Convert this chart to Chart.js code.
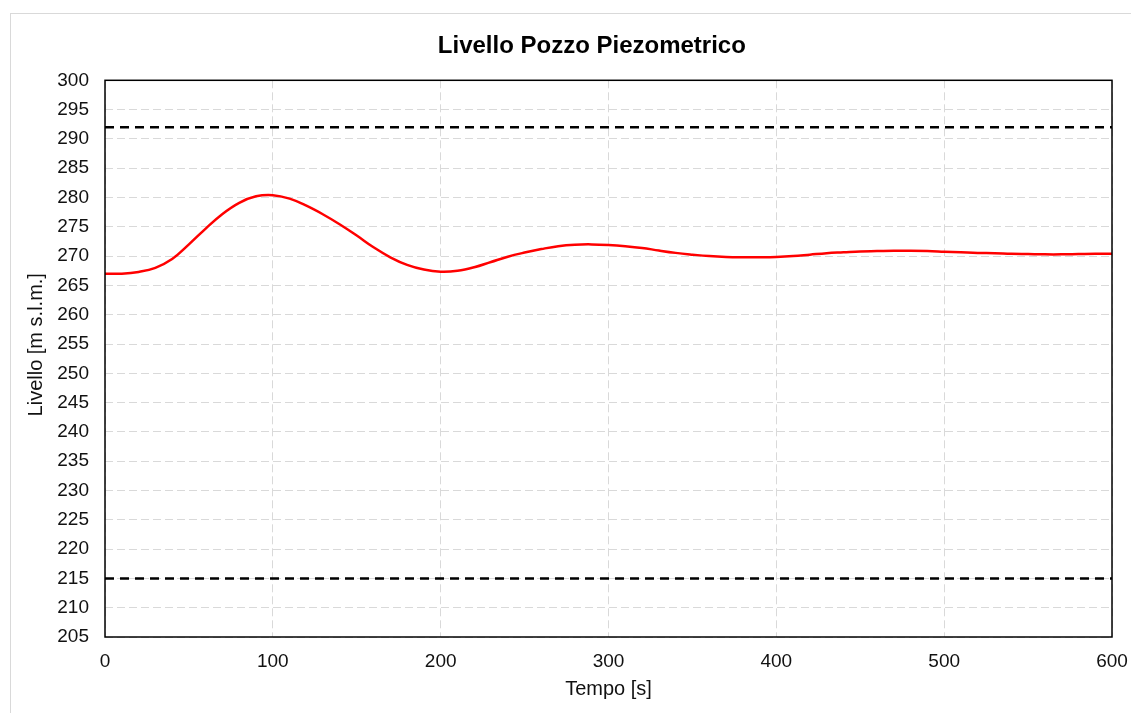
<!DOCTYPE html>
<html>
<head>
<meta charset="utf-8">
<script src="https://cdn.jsdelivr.net/npm/chart.js@4"></script>
<style>
    html, body { margin: 0; padding: 0; background: #fff; overflow: hidden; }
    #frame { position: absolute; left: 10px; top: 13px; width: 1300px; height: 900px; border: 1px solid #d9d9d9; }
    #wrap { position: absolute; left: 0; top: 0; width: 1131px; height: 713px; }
</style>
</head>
<body>
<div id="frame"></div>
<div id="wrap"><canvas id="livelloChart" width="1131" height="713"></canvas></div>
<script>
// tempo [s] and livello [m s.l.m.], every 10 s
let tempo = [0, 10, 20, 30, 40, 50, 60, 70, 80, 90,
    100, 110, 120, 130, 140, 150, 160, 170, 180, 190,
    200, 210, 220, 230, 240, 250, 260, 270, 280, 290,
    300, 310, 320, 330, 340, 350, 360, 370, 380, 390,
    400, 410, 420, 430, 440, 450, 460, 470, 480, 490,
    500, 510, 520, 530, 540, 550, 560, 570, 580, 590, 600];
let livello = [267.0, 267.0, 267.3, 268.0, 269.5, 272.0, 274.7, 277.2, 279.1, 280.2,
    280.4, 279.8, 278.6, 277.1, 275.4, 273.5, 271.5, 269.8, 268.5, 267.7,
    267.35, 267.5, 268.1, 269.0, 269.9, 270.6, 271.2, 271.7, 271.95, 272.0,
    271.9, 271.7, 271.4, 270.95, 270.55, 270.25, 270.0, 269.85, 269.8, 269.8,
    269.85, 270.0, 270.25, 270.5, 270.65, 270.8, 270.85, 270.9, 270.9, 270.85,
    270.75, 270.65, 270.55, 270.5, 270.4, 270.35, 270.3, 270.3, 270.35, 270.4, 270.4];

let limiteSup = 292;
let limiteInf = 215;

let xMin = 0, xMax = 600, xStep = 100;
let yMin = 205, yMax = 300, yStep = 5;

let fontFamily = '"Liberation Sans", Arial, sans-serif';
let textColor = '#111';
let gridColor = '#d9d9d9';

// non-breaking spaces used to nudge the titles off-centre like in the original
let nbsp = '\u00a0';

function toPoints(xs, ys) {
    return xs.map((x, i) => ({ x: x, y: ys[i] }));
}

function hLine(value) {
    return [{ x: xMin, y: value }, { x: xMax, y: value }];
}

// black frame round the plot area
let frameBox = {
    id: 'frameBox',
    afterDraw(chart) {
        let a = chart.chartArea;
        let ctx = chart.ctx;
        ctx.save();
        ctx.strokeStyle = '#000';
        ctx.lineWidth = 1.5;
        ctx.strokeRect(a.left, a.top, a.right - a.left, a.bottom - a.top);
        ctx.restore();
    }
};

function drawChart() {
    let ctx = document.getElementById('livelloChart').getContext('2d');

    let chart_data = {
        datasets: [
            {
                label: 'Livello',
                data: toPoints(tempo, livello),
                borderColor: '#ff0000',
                borderWidth: 2.5,
                pointRadius: 0,
                tension: 0.4,
                order: 0
            },
            {
                label: 'Limite superiore',
                data: hLine(limiteSup),
                borderColor: '#000',
                borderWidth: 2.5,
                borderDash: [9, 6],
                pointRadius: 0,
                order: 1
            },
            {
                label: 'Limite inferiore',
                data: hLine(limiteInf),
                borderColor: '#000',
                borderWidth: 2.5,
                borderDash: [9, 6],
                pointRadius: 0,
                order: 1
            }
        ]
    };

    let chart_options = {
        responsive: false,
        animation: false,
        layout: { padding: { left: 10, right: 19, top: 20, bottom: 10 } },
        plugins: {
            legend: { display: false },
            tooltip: { enabled: false },
            title: {
                display: true,
                fullSize: false,
                text: 'Livello Pozzo Piezometrico' + nbsp.repeat(5),
                color: '#000',
                font: { family: fontFamily, size: 24, weight: 'bold' },
                padding: { top: 11.5, bottom: 20 }
            }
        },
        scales: {
            x: {
                type: 'linear',
                min: xMin,
                max: xMax,
                afterFit: (scale) => {
                    scale.height = 66;
                    scale.paddingLeft = 0;
                    scale.paddingRight = 0;
                },
                ticks: { stepSize: xStep, color: textColor, padding: 13, font: { family: fontFamily, size: 19 } },
                grid: { color: gridColor, drawTicks: false },
                border: { display: false, dash: [8, 4] },
                title: {
                    display: true,
                    text: 'Tempo [s]',
                    color: textColor,
                    font: { family: fontFamily, size: 20 },
                    padding: { top: 0, bottom: 2 }
                }
            },
            y: {
                min: yMin,
                max: yMax,
                afterFit: (scale) => { scale.width = 95; },
                ticks: { stepSize: yStep, color: textColor, padding: 16, font: { family: fontFamily, size: 19 } },
                grid: { color: gridColor, drawTicks: false },
                border: { display: false, dash: [8, 4] },
                title: {
                    display: true,
                    text: nbsp.repeat(5) + 'Livello [m s.l.m.]',
                    color: textColor,
                    font: { family: fontFamily, size: 20 },
                    padding: { top: 14, bottom: 0 }
                }
            }
        }
    };

    new Chart(ctx, { type: 'line', data: chart_data, options: chart_options, plugins: [frameBox] });
}

drawChart();
</script>
</body>
</html>
